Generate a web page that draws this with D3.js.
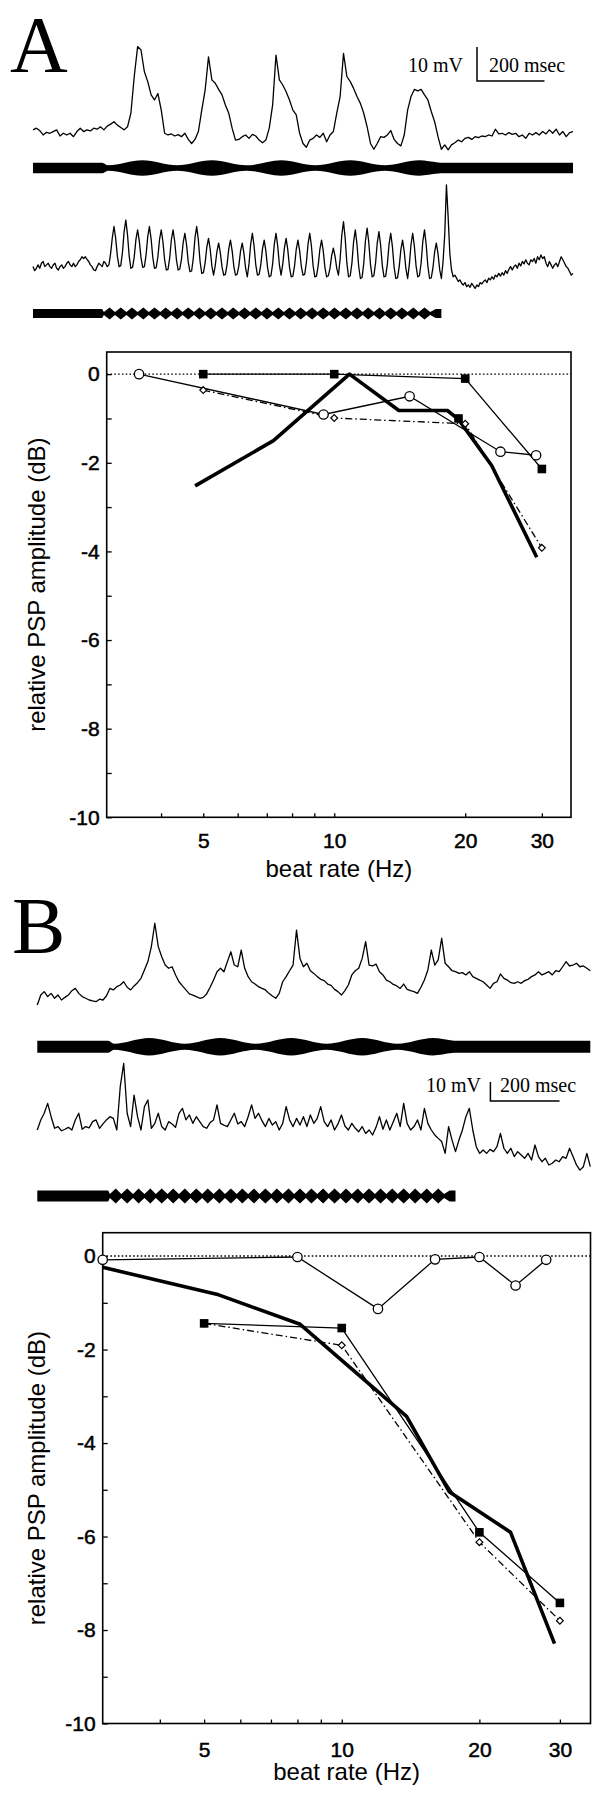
<!DOCTYPE html>
<html>
<head>
<meta charset="utf-8">
<script src="https://cdn.jsdelivr.net/npm/d3@7"></script>
<style>
body { margin: 0; background: #fff; }
svg { display: block; }
</style>
</head>
<body>
<svg id="fig" width="602" height="1800"></svg>
<script>
// ---- tuning curves (beat rate in Hz, relative PSP amplitude in dB) ----
let circA = [[3.56, 0], [9.45, -0.91], [14.9, -0.5], [24.1, -1.75], [29.1, -1.83]];
let squareA = [[5, 0], [10, 0], [20, -0.1], [30, -2.14]];
let diamondA = [[5, -0.36], [10, -0.99], [20, -1.12], [30, -3.92]];
let thickA = [[4.79, -2.52], [7.25, -1.5], [10.84, 0], [14.08, -0.82], [18.2, -0.82], [19.3, -1.02], [23.0, -2.06], [29.2, -4.13]];
let loneSquareA = [[19.3, -1.0]];

let circB = [[3, -0.08], [8, -0.02], [12, -1.13], [16, -0.07], [20, -0.02], [24, -0.63], [28, -0.08]];
let squareB = [[5, -1.44], [10, -1.54], [20, -5.91], [30, -7.42]];
let diamondB = [[5, -1.44], [10, -1.91], [20, -6.12], [30, -7.8]];
let thickB = [[3, -0.24], [5.38, -0.83], [8.11, -1.46], [13.86, -3.43], [17.18, -5.04], [23.4, -5.91], [29.2, -8.29]];

let xTicks = [4, 5, 6, 7, 8, 9, 10, 20, 30];
let xLabels = [5, 10, 20, 30];
let yTicks = [0, -1, -2, -3, -4, -5, -6, -7, -8, -9, -10];
let yLabels = [0, -2, -4, -6, -8, -10];

// ---- intracellular recordings, mV relative to rest ----
// A1 / B1 / B2 sampled every 10 ms, A2 every 5 ms
let traceA1 = [1.8,2.3,1.6,0.3,1.1,0.8,1.3,1.8,0,0.8, 0.3,0.8,-0.2,1.3,2.3,1.3,1.8,1.5,2.3,2.0,
  2.7,1.8,2.9,3.5,4.2,3.2,2.5,1.8,2.7,6.7, 17.5,26.3,25.3,18.9,16.0,12.1,10.6,12.5,7.6,0.8,
  0.3,0.6,0,0.4,-0.2,0.8,-1.0,-2.2,-1.0,1.3, 7.6,13.5,23.3,16.5,15.5,13.7,12.1,9.1,6.7,2.3,
  -1.2,-1.0,-0.2,0.3,-0.7,0.5,0,-1.2,-2.0,-1.2, 2.3,9.1,23.8,16.5,15.0,13.0,10.6,7.6,6.2,0.8,
  -2.2,-3.3,-1.2,-0.7,0.3,-0.4,0.8,-1.7,0.3,1.3, 6.7,11.6,24.3,17.5,16.0,14.0,11.6,9.6,6.7,2.7,
  -2.2,-3.9,-2.2,-0.2,-0.4,0.3,1.6,-1.0,-2.2,-2.9, 0.3,7.6,11.6,13.7,13.3,13.7,12.1,10.6,7.2,4.2,
  -0.2,-3.9,-2.6,-4.1,-2.6,-2.0,-1.2,-1.7,-0.7,-0.4, -1.0,-0.2,-0.5,0,-0.2,0.3,0,2.0,0.6,0.8,
  0.3,1.0,0.5,0.8,-0.2,0.3,-0.7,0.8,0.3,1.0, 0.3,1.3,0.6,1.8,0.8,2.0,0.3,1.3,-0.2,1.0, 1.3];

let traceA2 = [0.5,-0.7,0,1,0,1.5,2,0.5,1,1.5,0.5,0,1,1.5,0,-0.5,0.5,1,0,0.5,1.5,2,1,0.5,
  1.5,0.5,1,2,2.5,3.4,2.9,3.4,2.6,2,1,0.5,-0.5,-0.7,0.5,1.5,1,0.5,2,1.5,0.5,1,4.4,9,
  12.3,8.8,3.5,0.5,0.8,4.6,10.8, 14.2,9.9,3.6,0,0.3,3.4,8.5, 11.3,8,3.1,0.3,0.5,3.9,9.3,
  12.3,8.6,3.1,0,0.2,3.4,8.5, 11.3,7.8,2.5,-0.5,-0.3,3,8.4, 11.3,7.8,2.5,-0.5,-0.2,2.7,7.6,
  10.3,6.9,1.8,-1,-0.8,3,9, 12.3,8.2,2,-1.5,-1.3,1.6,6.2, 8.8,5.6,0.7,-2,0.8,5,
  7.4,4.6,0.4,-2,-1.8,1.1,5.7, 8.3,5.2,0.6,-2,-1.7,0.8,5.1, 7.4,4.4,0,-2.5,1.3,7.1,
  10.3,6.6,1.1,-2,-1.8,1.1,5.7, 8.3,5.1,0.2,-2.5,-2.2,1.3,7.1, 10.3,6.6,1.1,-2,1.2,6.1,
  8.8,5.4,0.3,-2.5,-2.3,0.7,5.6, 8.3,5.2,0.6,-2,-1.8,1.7,7.2, 10.3,6.5,0.7,-2.5,-2.3,0.8,5.6,
  8.3,5.1,0.2,-2.5,-2.2,0,3.8, 5.9,3.5,0,-2,2.7,9.8, 13.7,8.8,1.5,-2.5,-2.2,1.6,7.9,
  11.3,7,0.6,-3,-2.7,1.4,8.1, 11.8,7.5,1.1,-2.5,-2.2,1.5,7.5, 10.8,6.8,0.8,-2.5,-2.3,1.3,7.1,
  10.3,6.3,0.3,-3,-2.8,0.4,5.5, 8.3,4.9,-0.2,-3,1,7, 10.3,6.5,0.7,-2.5,-2.2,1.6,7.9,
  11.3,7,0.6,-3,-2.8,0.1,4.8, 7.4,4.3,-0.4,-3,2,10, 24.5,
  15.2,4.4,-0.5,-2.5,-2,-2.9,-3.9,-3.4,-4.4,-4.9, -4.2,-5.4,-4.9,-5.6,-4.4,-5.2,-5.9,-4.9,-5.4,-4.2,
  -4.6,-3.9,-3.4,-4.2,-2.9,-3.4,-2.5,-3.2,-2,-2.5, -1.5,-2.3,-1.3,-2,-0.7,-1.5,-0.3,0.5,-0.5,0.5,
  1,0,1.5,0.7,2,1.3,2.5,1.5,1,2.5, 2,2.9,1.5,3.4,2.5,3.9,2.9,3.4,1.5,0.5,
  2,1,0,1,1.5,0.5,2,3.4,2.5,1.5, 0.5,0,-1,-2,-1.5];

let traceB1 = [-2.6,2.6,4.4,1.8,3.5,0.9,2.6,0,1.4,2.6, 4.9,6.1,3.5,1.8,0.9,0,-0.5,-0.9,0.4,0,
  2.1,6.1,5.3,7.0,7.9,9.6,6.7,5.3,7.4,9.1, 11.4,15.8,20.2,28.1,40.4,28.1,22.8,18.4,16.7,17.5,
  13.2,9.6,7.4,5.3,3.2,2.6,1.8,0.9,1.4,3.2, 6.7,10.5,14.9,16.7,14.9,20.2,25.4,18.4,17.5,26.3,
  16.7,12.3,9.6,8.4,7.0,6.1,5.3,3.5,2.1,0.9, 3.5,9.6,12.3,15.4,18.4,36.8,21.9,17.5,19.3,15.4,
  14.0,12.3,10.9,10.2,8.4,7.7,5.6,4.4,2.6,4.9, 7.9,13.2,15.4,16.7,21.9,30.7,18.4,17.9,18.9,14.9,
  13.2,10.5,9.6,8.2,7.4,6.1,8.4,5.6,4.9,4.4, 3.5,6.7,10.5,15.8,26.3,18.4,21.1,32.5,19.3,17.5,
  15.4,14.9,14.0,14.4,13.2,14.9,12.3,11.4,10.5,9.6, 7.9,6.1,8.8,9.6,13.7,11.4,10.5,9.1,8.8,9.6,
  8.8,10.2,10.9,12.3,13.2,14.9,13.2,14.0,14.9,13.2, 15.4,14.9,17.5,20.2,17.9,18.4,19.3,17.5,17.9,16.7,
  15.4];

let traceB2 = [0,5.3,8.8,14.0,7.0,0.9,1.8,-0.4,0.4,1.4, 0,5.3,8.8,0.4,1.8,1.1,4.4,5.3,0.9,3.2,
  5.3,7.0,6.1,0,22.8,35.1,8.8,1.8,18.4,7.0, 0,12.3,15.8,0.9,3.5,8.8,1.8,0,4.4,3.2,
  1.4,8.8,11.4,5.3,7.9,3.5,7.0,4.4,1.8,0.9, 3.9,5.3,13.2,3.5,2.6,1.8,5.3,8.8,3.2,4.4,
  1.8,7.0,13.2,6.1,8.8,4.9,1.8,6.1,2.6,4.4, 0,3.5,12.3,5.3,1.8,6.1,2.6,7.0,1.8,7.9,
  3.5,6.1,12.3,4.4,1.8,5.3,0,3.2,7.9,2.1, 0,3.5,0.9,-0.9,1.8,-1.8,0,-2.6,1.4,7.0,
  0.4,5.3,0,4.4,8.8,1.8,14.0,3.5,0,1.8, 5.3,0,11.4,3.5,0,-2.6,-4.4,-6.1,-12.3,1.8,
  -5.3,-11.4,-5.3,0,7.0,11.4,0,-8.8,-12.3,-10.5, -12.3,-10.2,-11.4,-8.8,-1.8,-9.6,-12.3,-9.6,-14.0,-11.4,
  -13.2,-14.9,-12.3,-15.8,-7.9,-14.0,-16.7,-14.9,-18.4,-17.5, -15.8,-16.7,-14.0,-14.9,-9.6,-14.0,-18.4,-21.1,-19.3,-12.3,
  -19.3];

// ---- stimulus envelopes (ms, relative amplitude) ----
let stimSlowT = [0, 205, 222, 324, 427, 530, 632, 735, 837, 940, 1042, 1145, 1200, 1214, 1600];
let stimSlowA = [1, 1, 0.5, 1.45, 0.5, 1.45, 0.5, 1.45, 0.5, 1.45, 0.5, 1.45, 1.05, 1, 1];

let stimFastT = [0,205,210,227,243,260,277,293,310,327,343,360,377,393,410,427,443,460,477,493,
  510,527,543,560,577,593,610,627,643,660,677,693,710,727,743,760,777,793,810,827,843,860,877,893,
  910,927,943,960,977,993,1010,1027,1043,1060,1077,1093,1110,1127,1143,1160,1177,1193,1210,1215,1600];
let stimFastA = [1,1,
  0.35,1.35,0.35,1.35,0.35,1.35,0.35,1.35,0.35,1.35,0.35,1.35,0.35,1.35,0.35,1.35,0.35,1.35,
  0.35,1.35,0.35,1.35,0.35,1.35,0.35,1.35,0.35,1.35,0.35,1.35,0.35,1.35,0.35,1.35,0.35,1.35,0.35,1.35,
  0.35,1.35,0.35,1.35,0.35,1.35,0.35,1.35,0.35,1.35,0.35,1.35,0.35,1.35,0.35,1.35,0.35,1.35,0.35,1.35,
  0.35,1,1];

let svg = d3.select("#fig");
let sans = "'Liberation Sans', Arial, Helvetica, sans-serif";
let serif = "'Liberation Serif', 'Times New Roman', serif";

function drawTrace(vals, dt, xs, base, pxPerMv) {
    let y = d3.scaleLinear().domain([0, 10]).range([base, base - 10 * pxPerMv]);
    let line = d3.line()
        .x((d, i) => xs(i * dt))
        .y(d => y(d));
    svg.append("path")
        .datum(vals)
        .attr("d", line)
        .attr("fill", "none")
        .attr("stroke", "#000")
        .attr("stroke-width", 1.3)
        .attr("stroke-linejoin", "round");
}

function drawStim(ts, amps, xs, cy, half, curve) {
    let a = d3.scaleLinear().domain([0, 1]).range([0, half]);
    let area = d3.area()
        .x(d => xs(d[0]))
        .y0(d => cy - a(d[1]))
        .y1(d => cy + a(d[1]))
        .curve(curve);
    svg.append("path")
        .datum(d3.zip(ts, amps))
        .attr("d", area)
        .attr("fill", "#000");
}

function scaleBar(x0, y0, mvPx, msPx, textY, mvRight, msLeft) {
    svg.append("path")
        .attr("d", `M${x0},${y0}V${y0 + mvPx}H${x0 + msPx}`)
        .attr("fill", "none").attr("stroke", "#000").attr("stroke-width", 1.5);
    svg.append("text").attr("x", mvRight).attr("y", textY)
        .attr("text-anchor", "end")
        .style("font-family", serif).style("font-size", "20px")
        .text("10 mV");
    svg.append("text").attr("x", msLeft).attr("y", textY)
        .style("font-family", serif).style("font-size", "20px")
        .text("200 msec");
}

function drawChart(c) {
    let x = d3.scaleLog().domain([3, 35]).range([c.left, c.right]);
    let y = d3.scaleLinear().domain([-10, 0.5]).range([c.bottom, c.top]);
    let g = svg.append("g");

    g.append("g")
        .attr("transform", `translate(0,${c.bottom})`)
        .call(d3.axisBottom(x).tickValues(xTicks).tickSize(-4).tickPadding(c.xPad)
            .tickFormat(d => xLabels.includes(d) ? String(d) : ""))
        .call(a => a.select(".domain").remove());
    g.append("g")
        .attr("transform", `translate(${c.left},0)`)
        .call(d3.axisLeft(y).tickValues(yTicks).tickSize(-5).tickPadding(7)
            .tickFormat(d => yLabels.includes(d) ? String(d) : ""))
        .call(a => a.select(".domain").remove());
    g.selectAll(".tick line").attr("stroke", "#000").attr("stroke-width", 1.3);
    g.selectAll(".tick text")
        .style("font-family", sans).style("font-size", "21px")
        .attr("fill", "#000").attr("stroke", "#000").attr("stroke-width", 0.5);

    g.append("rect")
        .attr("x", c.left).attr("y", c.top)
        .attr("width", c.right - c.left).attr("height", c.bottom - c.top)
        .attr("fill", "none").attr("stroke", "#000").attr("stroke-width", 1.6);

    // zero reference
    g.append("line")
        .attr("x1", c.left).attr("x2", c.right)
        .attr("y1", y(0)).attr("y2", y(0))
        .attr("stroke", "#000").attr("stroke-width", 1.4)
        .attr("stroke-dasharray", "1.6,2.2");

    let line = d3.line().x(d => x(d[0])).y(d => y(d[1]));

    g.append("path").datum(c.thick).attr("d", line)
        .attr("fill", "none").attr("stroke", "#000").attr("stroke-width", 3.6)
        .attr("stroke-linejoin", "round");
    g.append("path").datum(c.square).attr("d", line)
        .attr("fill", "none").attr("stroke", "#000").attr("stroke-width", 1.3);
    g.append("path").datum(c.circ).attr("d", line)
        .attr("fill", "none").attr("stroke", "#000").attr("stroke-width", 1.3);
    g.append("path").datum(c.diamond).attr("d", line)
        .attr("fill", "none").attr("stroke", "#000").attr("stroke-width", 1.3)
        .attr("stroke-dasharray", "7,3,1.5,3");

    g.selectAll(".dia").data(c.diamond).enter().append("path")
        .attr("d", "M0,-3.4L3.4,0L0,3.4L-3.4,0Z")
        .attr("transform", d => `translate(${x(d[0])},${y(d[1])})`)
        .attr("fill", "#fff").attr("stroke", "#000").attr("stroke-width", 1.2);
    g.selectAll(".sq").data(c.square.concat(c.lone || [])).enter().append("rect")
        .attr("x", d => x(d[0]) - 4.3).attr("y", d => y(d[1]) - 4.3)
        .attr("width", 8.6).attr("height", 8.6)
        .attr("fill", "#000");
    g.selectAll(".circ").data(c.circ).enter().append("circle")
        .attr("cx", d => x(d[0])).attr("cy", d => y(d[1]))
        .attr("r", 4.7)
        .attr("fill", "#fff").attr("stroke", "#000").attr("stroke-width", 1.3);

    g.append("text")
        .attr("x", (c.left + c.right) / 2).attr("y", c.xTitleY)
        .attr("text-anchor", "middle")
        .style("font-family", sans).style("font-size", "24px")
        .text("beat rate (Hz)");
    g.append("text")
        .attr("transform", `translate(37,${(c.top + c.bottom) / 2}) rotate(-90)`)
        .attr("dy", "0.35em")
        .attr("text-anchor", "middle")
        .style("font-family", sans).style("font-size", "24px")
        .text("relative PSP amplitude (dB)");
}

// ---------- panel A ----------
svg.append("text").attr("x", 10).attr("y", 72)
    .style("font-family", serif).style("font-size", "80px").text("A");

let xsA = d3.scaleLinear().domain([0, 1600]).range([33, 573]);
scaleBar(477, 47, 34, 200 * 0.3375, 72, 463, 489);
drawTrace(traceA1, 10, xsA, 136, 3.4);
drawStim(stimSlowT, stimSlowA, xsA, 168, 5.3, d3.curveMonotoneX);
drawTrace(traceA2, 5, xsA, 268.3, 3.4);
drawStim(stimFastT, stimFastA, xsA, 313.5, 4.5, d3.curveLinear);

drawChart({left: 106.7, right: 571, top: 352, bottom: 817.3, xPad: 16, xTitleY: 877,
    circ: circA, square: squareA, diamond: diamondA, thick: thickA, lone: loneSquareA});

// ---------- panel B ----------
svg.append("text").attr("x", 12).attr("y", 953)
    .style("font-family", serif).style("font-size", "80px").text("B");

let xsB = d3.scaleLinear().domain([0, 1600]).range([37.3, 590.3]);
drawTrace(traceB1, 10, xsB, 1000, 1.9);
drawStim(stimSlowT, stimSlowA, xsB, 1046.7, 6, d3.curveMonotoneX);
scaleBar(490.4, 1082, 19, 200 * 0.3456, 1092, 481, 500);
drawTrace(traceB2, 10, xsB, 1130, 1.9);
drawStim(stimFastT, stimFastA, xsB, 1196, 5.5, d3.curveLinear);

drawChart({left: 102.7, right: 590.5, top: 1232.7, bottom: 1723.5, xPad: 19, xTitleY: 1780,
    circ: circB, square: squareB, diamond: diamondB, thick: thickB});
</script>
</body>
</html>
